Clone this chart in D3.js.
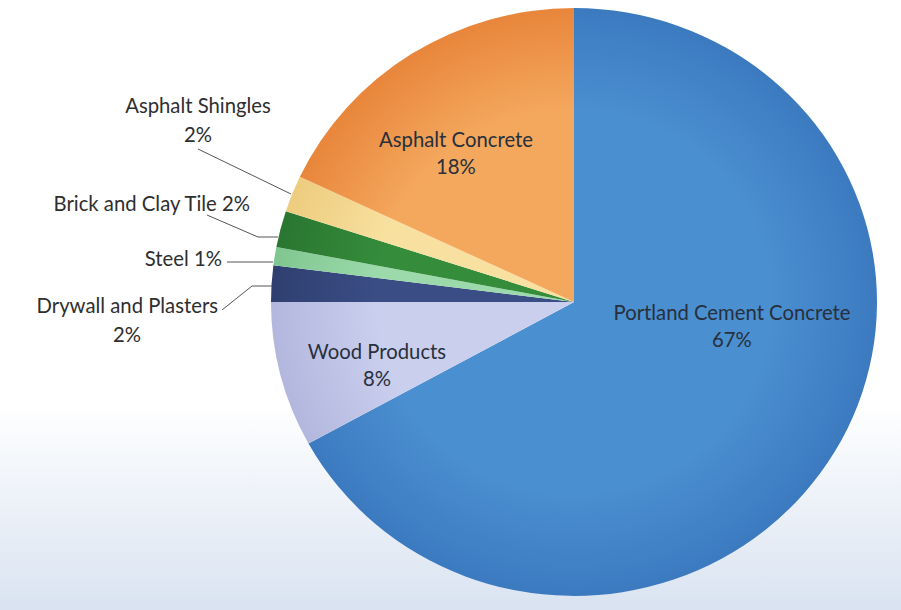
<!DOCTYPE html>
<html>
<head>
<meta charset="utf-8">
<script src="https://cdn.jsdelivr.net/npm/d3@7/dist/d3.min.js"></script>
<style>
  html, body { margin: 0; padding: 0; background: #fff; }
  svg { display: block; }
  text { font-family: Lato, "Open Sans", sans-serif; fill: #2e2e2e; }
</style>
</head>
<body>
<svg id="chart" width="901" height="610"></svg>
<script>
const categories = ["Portland Cement Concrete", "Wood Products", "Drywall and Plasters", "Steel", "Brick and Clay Tile", "Asphalt Shingles", "Asphalt Concrete"];
const values = [67, 8, 2, 1, 2, 2, 18];
const colorsInner = ["#4a8fd0", "#cacfee", "#3a4d85", "#9cdaab", "#358c3b", "#f8e1a0", "#f4a85e"];
const colorsOuter = ["#3c7ac0", "#b3b7de", "#2f3f70", "#80c690", "#2a7631", "#edcc7e", "#e8863b"];

const svg = d3.select("#chart");
const W = 901, H = 610;
const cx = 574, cy = 302, r = 303, yScale = 0.97;

const defs = svg.append("defs");
const bg = defs.append("linearGradient").attr("id", "bg").attr("x1", 0).attr("y1", 0).attr("x2", 0).attr("y2", 1);
bg.append("stop").attr("offset", "0%").attr("stop-color", "#ffffff");
bg.append("stop").attr("offset", "66%").attr("stop-color", "#ffffff");
bg.append("stop").attr("offset", "100%").attr("stop-color", "#d9e3f1");
svg.append("rect").attr("width", W).attr("height", H).attr("fill", "url(#bg)");

categories.forEach((c, i) => {
  const g = defs.append("radialGradient").attr("id", "g" + i)
    .attr("gradientUnits", "userSpaceOnUse").attr("cx", 0).attr("cy", 0).attr("r", r);
  g.append("stop").attr("offset", "0%").attr("stop-color", colorsInner[i]);
  g.append("stop").attr("offset", "65%").attr("stop-color", colorsInner[i]);
  g.append("stop").attr("offset", "100%").attr("stop-color", colorsOuter[i]);
});

const pie = d3.pie().sort(null).value(d => d.v);
const arcs = pie(categories.map((c, i) => ({ c, v: values[i], i })));
const arc = d3.arc().innerRadius(0).outerRadius(r);

const g = svg.append("g").attr("transform", `translate(${cx},${cy}) scale(1,${yScale})`);
g.selectAll("path").data(arcs).join("path")
  .attr("d", arc)
  .attr("fill", d => `url(#g${d.data.i})`);

const fs = 20.3;
// inside labels
const inside = [
  { i: 0, x: 732, y: 320 },
  { i: 6, x: 456, y: 147 },
  { i: 1, x: 377, y: 359 }
];
inside.forEach(d => {
  const t = svg.append("text").attr("text-anchor", "middle").attr("font-size", fs).style("fill", "#27303c");
  t.append("tspan").attr("x", d.x).attr("y", d.y).text(categories[d.i]);
  t.append("tspan").attr("x", d.x).attr("y", d.y + 27).text(values[d.i] + "%");
});

// outside labels with leader lines
const lines = [
  [[198, 149], [291, 194]],
  [[207, 215], [258, 237], [278, 237]],
  [[227, 262], [273, 262]],
  [[222, 310], [252, 286], [272, 286]]
];
const line = d3.line();
svg.selectAll("path.leader").data(lines).join("path")
  .attr("class", "leader").attr("d", line)
  .attr("fill", "none").attr("stroke", "#555").attr("stroke-width", 1);

const outLabels = [
  { lines: [categories[5], values[5] + "%"], x: 198, y: 113, anchor: "middle" },
  { lines: [categories[4] + " " + values[4] + "%"], x: 250, y: 211, anchor: "end" },
  { lines: [categories[3] + " " + values[3] + "%"], x: 222, y: 266, anchor: "end" },
  { lines: [categories[2]], x: 218, y: 313, anchor: "end" },
  { lines: [values[2] + "%"], x: 127, y: 342, anchor: "middle" }
];
outLabels.forEach(d => {
  const t = svg.append("text").attr("text-anchor", d.anchor).attr("font-size", fs);
  d.lines.forEach((s, k) => t.append("tspan").attr("x", d.x).attr("y", d.y + k * 29).text(s));
});
</script>
</body>
</html>
